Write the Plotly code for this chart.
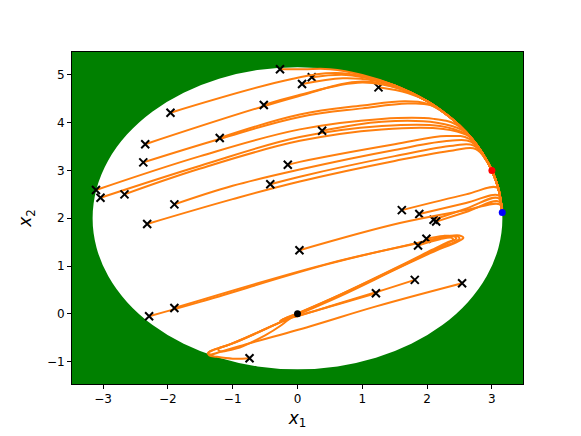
import plotly.graph_objects as go

# safe set: disc centred at (0, 2)
CENTER_X, CENTER_Y = 0.0, 2.0
RADIUS = 3.162

RED_POINT = (3.0, 3.0)
BLUE_POINT = (3.16, 2.12)
ORIGIN = (0.0, 0.0)

# boundary arc the upper trajectories slide along, down to the blue point
ARC_X = [0.5, 1.0, 1.5, 2.0, 2.3, 2.5, 2.7, 2.85, 3.0, 3.1, 3.16]
ARC_Y = [5.12, 5.0, 4.78, 4.45, 4.17, 3.94, 3.65, 3.37, 3.0, 2.62, 2.12]

# upper trajectories: part before they reach the boundary arc
UPPER_X = [
    [-0.27, 0.1],
    [0.22, 0.75, 1.25],
    [0.07, 0.7, 1.2],
    [-1.96, -0.07, 0.6, 1.1],
    [1.25, 1.7],
    [-2.35, 0.0, 1.0, 1.6],
    [-0.52, 0.0, 1.0, 1.65],
    [-2.38, -1.2, 0.035, 1.0, 1.7, 2.05],
    [-1.2, 0.035, 1.0, 1.65, 2.0],
    [-3.11, -1.5, 0.035, 1.3, 2.1, 2.45],
    [-3.04, -1.5, 0.035, 1.3, 2.2, 2.6],
    [-2.67, -1.5, 0.035, 1.3, 2.25, 2.62],
    [0.38, 1.3, 2.15, 2.55],
    [-2.32, -1.0, 0.035, 1.5, 2.4, 2.75, 2.92],
    [-0.42, 0.035, 1.5, 2.4, 2.72, 2.92],
    [-1.9, -1.0, 0.035, 1.5, 2.35, 2.68, 2.92],
    [-0.15, 0.035, 1.5, 2.3, 2.65, 2.92],
]
UPPER_Y = [
    [5.12, 5.12],
    [4.95, 5.0, 4.88],
    [4.81, 4.93, 4.88],
    [4.21, 4.92, 5.04, 4.94],
    [4.74, 4.62],
    [3.55, 4.55, 4.86, 4.7],
    [4.37, 4.57, 4.84, 4.68],
    [3.17, 3.66, 4.12, 4.3, 4.4, 4.37],
    [3.68, 4.17, 4.36, 4.45, 4.4],
    [2.59, 3.3, 3.86, 4.08, 4.08, 3.96],
    [2.43, 3.1, 3.7, 3.93, 3.93, 3.76],
    [2.5, 3.04, 3.62, 3.86, 3.87, 3.74],
    [3.83, 4.02, 4.0, 3.84],
    [1.88, 2.4, 2.77, 3.2, 3.42, 3.45, 3.2],
    [2.71, 2.87, 3.3, 3.52, 3.52, 3.2],
    [2.29, 2.68, 3.02, 3.43, 3.62, 3.6, 3.2],
    [3.12, 3.18, 3.55, 3.72, 3.66, 3.2],
]

# middle trajectories that hit the boundary just above the blue point
BLUE_X = [
    [1.61, 2.6, 3.08, 3.13, 3.16],
    [1.88, 2.6, 3.1, 3.14, 3.16],
    [2.1, 2.6, 3.1, 3.16],
    [2.14, 2.6, 3.11, 3.16],
    [0.03, 1.58, 2.6, 3.12, 3.16],
]
BLUE_Y = [
    [2.17, 2.5, 2.64, 2.4, 2.12],
    [2.09, 2.32, 2.48, 2.3, 2.12],
    [1.97, 2.2, 2.42, 2.12],
    [1.93, 2.13, 2.35, 2.12],
    [1.33, 1.9, 2.17, 2.29, 2.12],
]

# lower trajectories spiralling into the origin
SPIRAL_X = [
    [-2.29, -1.5, 0.5, 1.9, 2.3, 2.5, 2.56, 2.46, 2.2, 1.58, 0.66, 0.0, -0.8, -1.1, -1.22, -1.2, -0.95, -0.5, -0.25, -0.1, 0.0],
    [-1.9, 0.5, 1.9, 2.3, 2.47, 2.5, 2.42, 2.15, 1.58, 0.66, 0.0, -0.2, -0.27, -0.15, 0.0],
    [1.99, 2.25, 2.42, 2.45, 2.36, 2.1, 1.58, 0.66, 0.0, -0.2, -0.26, -0.1, 0.0],
    [1.86, 2.2, 2.38, 2.4, 2.32, 2.08, 1.58, 0.66, 0.0],
    [1.81, 1.21, 0.6, 0.0, -0.2, -0.26, -0.15, 0.0],
    [1.21, 0.6, 0.0, -0.18, -0.22, -0.1, 0.0],
    [2.54, 1.2, 0.2, -0.9, -1.2, -1.34, -1.38, -1.3, -1.0, -0.4, 0.0],
    [-0.74, -1.0, -1.25, -1.36, -1.38, -1.31, -1.0, -0.4, 0.0],
]
SPIRAL_Y = [
    [-0.05, 0.25, 1.05, 1.5, 1.62, 1.64, 1.59, 1.5, 1.36, 0.97, 0.37, -0.02, -0.5, -0.67, -0.73, -0.78, -0.73, -0.45, -0.24, -0.08, 0.0],
    [0.12, 1.06, 1.49, 1.61, 1.62, 1.57, 1.5, 1.35, 0.98, 0.39, 0.0, -0.1, -0.15, -0.11, 0.0],
    [1.57, 1.63, 1.62, 1.57, 1.51, 1.33, 0.99, 0.4, 0.01, -0.1, -0.15, -0.09, 0.0],
    [1.43, 1.56, 1.59, 1.55, 1.5, 1.34, 1.0, 0.4, 0.0],
    [0.71, 0.45, 0.2, -0.05, -0.11, -0.15, -0.1, 0.0],
    [0.43, 0.19, -0.04, -0.1, -0.13, -0.06, 0.0],
    [0.64, 0.15, -0.26, -0.68, -0.8, -0.85, -0.82, -0.76, -0.62, -0.26, 0.0],
    [-0.93, -0.94, -0.9, -0.87, -0.82, -0.76, -0.62, -0.26, 0.0],
]

ORANGE = "#ff7f0e"
GREEN = "#008000"
FONT = "DejaVu Sans"

paths = []
for xs, ys in zip(UPPER_X, UPPER_Y):
    tail = [i for i, ax in enumerate(ARC_X) if ax > xs[-1] + 0.05]
    paths.append((xs + [ARC_X[i] for i in tail], ys + [ARC_Y[i] for i in tail]))
paths += list(zip(BLUE_X, BLUE_Y))
paths += list(zip(SPIRAL_X, SPIRAL_Y))

fig = go.Figure()
for xs, ys in paths:
    fig.add_trace(go.Scatter(
        x=xs, y=ys, mode="lines",
        line=dict(color=ORANGE, width=2, shape="spline", smoothing=1.1),
        hoverinfo="skip",
    ))
    fig.add_trace(go.Scatter(
        x=[xs[0]], y=[ys[0]], mode="markers",
        marker=dict(symbol="x-thin", size=8, line=dict(color="black", width=2)),
    ))

for (px, py), col in [(RED_POINT, "red"), (BLUE_POINT, "blue"), (ORIGIN, "black")]:
    fig.add_trace(go.Scatter(x=[px], y=[py], mode="markers",
                             marker=dict(color=col, size=7)))

fig.add_shape(
    type="circle", xref="x", yref="y", layer="below",
    x0=CENTER_X - RADIUS, x1=CENTER_X + RADIUS,
    y0=CENTER_Y - RADIUS, y1=CENTER_Y + RADIUS,
    fillcolor="white", line=dict(width=0),
)

axis = dict(
    showgrid=False, zeroline=False, showline=True, linecolor="black",
    linewidth=1, mirror=True, ticks="outside", ticklen=4, tickwidth=1,
    tickcolor="black", tickfont=dict(family=FONT, size=12, color="black"),
)
fig.update_xaxes(range=[-3.48, 3.48], tickvals=[-3, -2, -1, 0, 1, 2, 3],
                 title=dict(text="<i>x</i><sub>1</sub>", standoff=6,
                            font=dict(family=FONT, size=17, color="black")),
                 **axis)
fig.update_yaxes(range=[-1.47, 5.48], tickvals=[-1, 0, 1, 2, 3, 4, 5],
                 title=dict(text="<i>x</i><sub>2</sub>", standoff=10,
                            font=dict(family=FONT, size=17, color="black")),
                 **axis)
fig.update_layout(
    width=581, height=436, showlegend=False,
    margin=dict(l=72, r=58, t=52, b=48),
    plot_bgcolor=GREEN, paper_bgcolor="white",
)
fig.write_html("out.html", config={"displayModeBar": False},
               post_script="document.body.style.margin='0';")
